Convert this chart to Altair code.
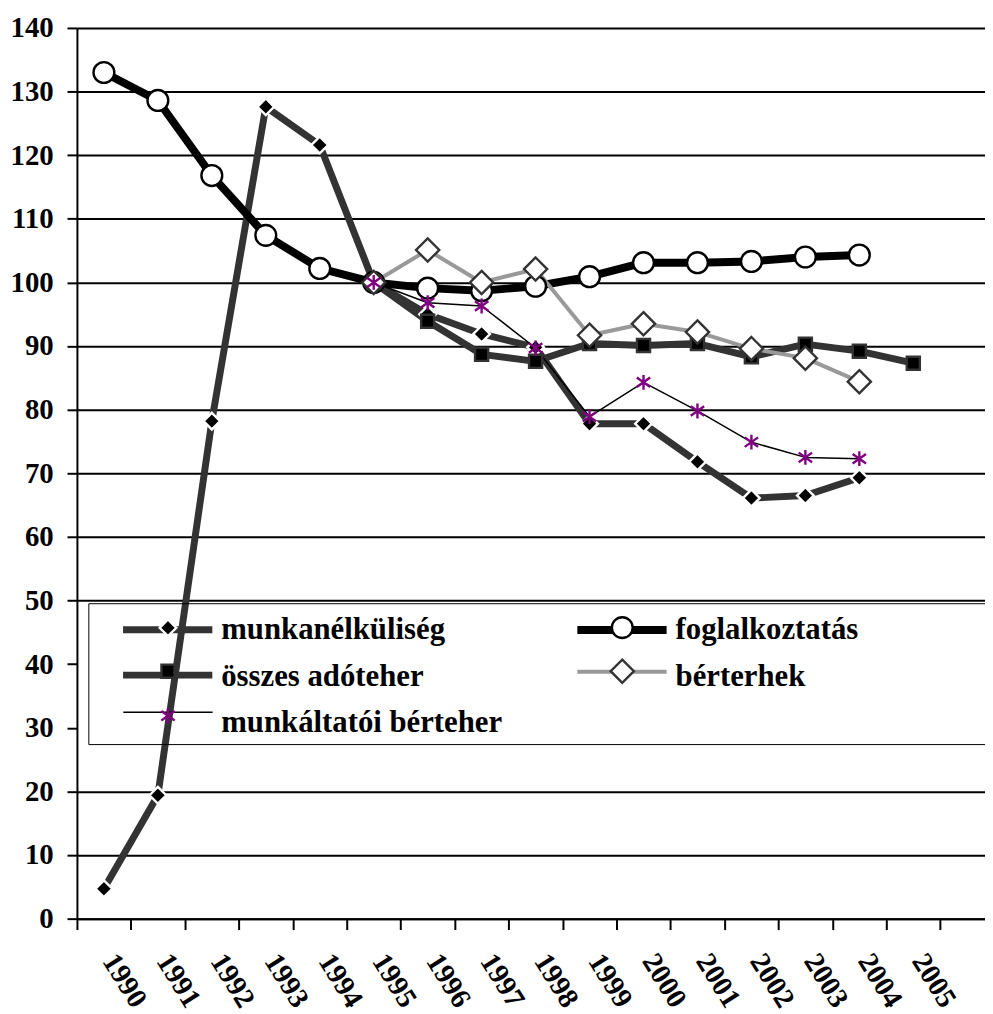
import altair as alt
import pandas as pd

# ---------------- data ----------------
years = list(range(1990, 2006))
names = ["munkanélküliség", "foglalkoztatás", "összes adóteher", "bérterhek", "munkáltatói bérteher"]
munkanelkuliseg = [4.7, 19.4, 78.2, 127.6, 121.6, 100.0, 95.0, 91.9, 89.8, 77.8, 77.8, 71.8, 66.1, 66.5, 69.3, None]
foglalkoztatas = [133.0, 128.6, 116.8, 107.4, 102.2, 100.0, 99.1, 98.7, 99.4, 100.9, 103.1, 103.1, 103.3, 104.0, 104.3, None]
osszes_adoteher = [None, None, None, None, None, 100.0, 93.9, 88.7, 87.6, 90.4, 90.1, 90.4, 88.3, 90.3, 89.2, 87.3]
berterhek = [None, None, None, None, None, 100.0, 105.1, 100.0, 102.1, 91.7, 93.5, 92.2, 89.6, 88.1, 84.4, None]
munkaltatoi_berteher = [None, None, None, None, None, 100.0, 96.8, 96.3, 89.7, 78.9, 84.3, 79.8, 74.9, 72.5, 72.3, None]
y_ticks = list(range(0, 141, 10))
x_ticks = [y - 0.5 for y in years] + [years[-1] + 0.5]

series_values = [munkanelkuliseg, foglalkoztatas, osszes_adoteher, berterhek, munkaltatoi_berteher]

rows = []
for name, vals in zip(names, series_values):
    for yr, v in zip(years, vals):
        if v is not None:
            rows.append({"series": name, "year": yr, "value": v})
df = pd.DataFrame(rows)
year_df = pd.DataFrame({"year": years})

# ---------------- styles ----------------
FONT = "Liberation Serif, Times New Roman, Times, serif"
line_colors = ["#333333", "#000000", "#333333", "#999999", "#000000"]
line_widths = [7, 8, 7, 4, 1.5]
marker_paths = [
    "M0,-0.56L0.56,0L0,0.56L-0.56,0Z",
    "M-0.7,0A0.7,0.7,0,1,0,0.7,0A0.7,0.7,0,1,0,-0.7,0Z",
    "M-0.44,-0.44H0.44V0.44H-0.44Z",
    "M0,-0.78L0.78,0L0,0.78L-0.78,0Z",
    "M0,-0.5V0.5M-0.45,-0.32L0.45,0.32M-0.45,0.32L0.45,-0.32",
]
marker_fills = ["#000000", "#ffffff", "#000000", "#ffffff", "transparent"]
marker_strokes = ["#ffffff", "#000000", "#333333", "#333333", "#800080"]
MARKER_SW = 2.4
SYM_SIZE = 900          # sqrt = 30 px; custom paths scale by 15
LINE_SYMBOL = "M-3,0H3"  # 90 px wide line in the legend

W, H = 915.5, 898
X_MAX = 1989.5 + W / 54.4

x_enc = alt.X(
    "year:Q",
    scale=alt.Scale(domain=[1989.5, X_MAX], nice=False, zero=False),
    axis=alt.Axis(values=x_ticks, labels=False, ticks=True, tickSize=11, tickWidth=2,
                  tickColor="black", domainColor="black", domainWidth=2, grid=False, title=None),
)
# gridlines at 30 and 40 lie behind the legend frame, which hides them in the original
GRID_COLOR = {"condition": {"test": "datum.value === 30 || datum.value === 40",
                            "value": "transparent"}, "value": "black"}
y_enc = alt.Y(
    "value:Q",
    scale=alt.Scale(domain=[0, 140], nice=False, zero=True),
    axis=alt.Axis(values=y_ticks, grid=True, gridColor=GRID_COLOR, gridWidth=2, domainColor="black",
                  domainWidth=2, tickColor="black", tickWidth=2, tickSize=10, labelFont=FONT,
                  labelFontSize=29, labelFontWeight="bold", labelColor="black", labelPadding=14,
                  title=None),
)

# the legend frame runs on past the right edge of the picture, as in the original:
# the (invisible) labels of the frame-drawing legend are widened in the right column
PAD = "\u2800" * 14
right_col = [names[1], names[3]]
BOX_LABEL_EXPR = f"indexof({right_col!r}, datum.label) >= 0 ? datum.label + '{PAD}' : datum.label"

LEG_COMMON = dict(
    orient="none", legendX=11.5, legendY=580, columns=2, direction="horizontal", title=None,
    symbolSize=SYM_SIZE, labelFont=FONT, labelFontSize=31, labelFontWeight="bold",
    labelLimit=0, padding=8, rowPadding=12, columnPadding=48, gridAlign="each",
)


def offsets(sw):
    return dict(symbolOffset=57 - sw / 2, labelOffset=39 - sw / 2)


layers = []
for i, name in enumerate(names):
    sw = line_widths[i]
    rng = ["transparent"] * len(names)
    rng[i] = line_colors[i]
    if i == 0:
        extra = dict(strokeColor="black", labelColor="transparent", labelExpr=BOX_LABEL_EXPR)
    elif i == 1:
        extra = dict(labelColor="black")
    else:
        extra = dict(labelColor="transparent")
    leg = alt.Legend(symbolType=LINE_SYMBOL, symbolStrokeWidth=sw, **offsets(sw),
                     **LEG_COMMON, **extra)
    layers.append(
        alt.Chart(df)
        .transform_filter(alt.datum.series == name)
        .mark_line(strokeWidth=sw, strokeCap="round", strokeJoin="round")
        .encode(
            x=x_enc, y=y_enc,
            stroke=alt.Stroke("series:N", scale=alt.Scale(domain=names, range=rng), legend=leg),
        )
    )

mleg = alt.Legend(symbolStrokeWidth=MARKER_SW, **offsets(MARKER_SW),
                  labelColor="transparent", symbolOpacity=1, **LEG_COMMON)
points = alt.Chart(df).mark_point(filled=True, size=SYM_SIZE, strokeWidth=MARKER_SW, opacity=1).encode(
    x=x_enc, y=y_enc,
    shape=alt.Shape("series:N", scale=alt.Scale(domain=names, range=marker_paths), legend=mleg),
    fill=alt.Fill("series:N", scale=alt.Scale(domain=names, range=marker_fills), legend=mleg),
    stroke=alt.Stroke("series:N", scale=alt.Scale(domain=names, range=marker_strokes), legend=mleg),
)
layers.append(points)

labels = alt.Chart(year_df).mark_text(
    angle=58, align="left", baseline="alphabetic", dx=-4, font=FONT, fontSize=29,
    fontWeight="bold", color="black",
).encode(x=x_enc, y=alt.value(944), text="year:N")
layers.append(labels)

chart = (
    alt.layer(*layers)
    .resolve_scale(stroke="independent", fill="independent", shape="independent")
    .properties(
        width=W, height=H,
        autosize=alt.AutoSizeParams(type="none"),
        padding={"left": 69.5, "top": 16, "right": 0, "bottom": 90},
        background="white",
    )
    .configure_view(stroke=None)
)

chart.save("out.html", embed_options={"renderer": "svg", "actions": False})
